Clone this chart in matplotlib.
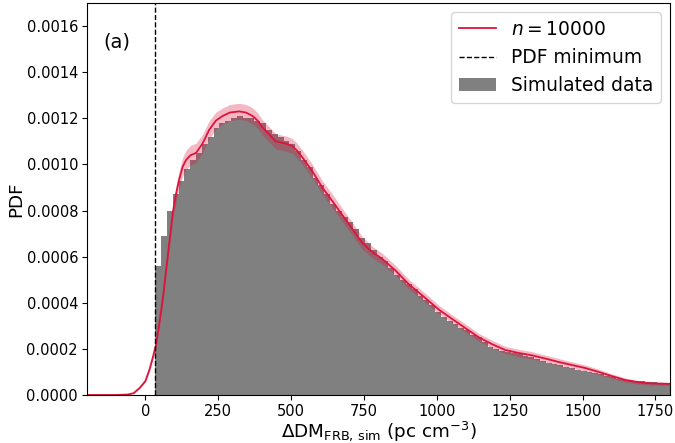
import numpy as np
import matplotlib
matplotlib.use("Agg")
import matplotlib.pyplot as plt

# ---- data ----
pdf_min = 34.0

hist_edges_start = 34.0
hist_bin_width = 20.0
hist_heights = [
    0.00056, 0.00069, 0.00080, 0.00087, 0.00093, 0.00098, 0.00102, 0.00105,
    0.00109, 0.00112, 0.00116, 0.00118, 0.00119, 0.00120, 0.00121, 0.00120,
    0.00120, 0.00119, 0.00118, 0.00115, 0.00113, 0.00112, 0.00110, 0.00109,
    0.00106, 0.00102, 0.00099, 0.00094, 0.00091, 0.00087, 0.00083, 0.00080,
    0.00077, 0.00075, 0.00072, 0.00068, 0.00066, 0.00063, 0.00060, 0.00058,
    0.00055, 0.00052, 0.00050, 0.00048, 0.00046, 0.00043, 0.00041, 0.00039,
    0.00036, 0.00034, 0.00032, 0.00031, 0.00029, 0.00028, 0.00026, 0.00025,
    0.00023, 0.00021, 0.00020, 0.00019, 0.000185, 0.00018, 0.000177, 0.00017,
    0.000165, 0.000156, 0.000147, 0.00014, 0.000134, 0.000128, 0.000122, 0.000117,
    0.00011, 0.000105, 0.0001, 0.000097, 0.00009, 0.000083, 0.000077, 0.00007,
    0.000066, 0.000063, 0.000061, 0.00006, 0.000057, 0.000055, 0.000053, 0.00005,
    0.00005,
]

curve_x = [-200, -100, -60, -40, -20, 0, 14, 25, 37, 50, 60, 70, 82, 94, 105,
           115, 128, 140, 155, 174, 196, 219, 242, 265, 290, 322, 345, 368,
           385, 402, 425, 447, 465, 482, 504, 520, 539, 573, 607, 642, 676,
           710, 744, 778, 813, 858, 904, 961, 1007, 1052, 1098, 1144, 1190,
           1235, 1281, 1326, 1372, 1418, 1463, 1509, 1555, 1600, 1646, 1692,
           1737, 1800]
curve_y = [0.0, 0.0, 0.000002, 0.000008, 0.00003, 0.00006, 0.00011, 0.00016,
           0.00022, 0.00033, 0.00042, 0.00053, 0.00066, 0.00079, 0.00087,
           0.00093, 0.00099, 0.00102, 0.00104, 0.00105, 0.00109, 0.00115,
           0.00119, 0.00121, 0.001225, 0.00123, 0.001225, 0.00121, 0.00119,
           0.00116, 0.00113, 0.00110, 0.001095, 0.00109, 0.00108, 0.00106,
           0.00103, 0.00097, 0.00090, 0.00084, 0.00078, 0.00072, 0.00066,
           0.00062, 0.00059, 0.00054, 0.00048, 0.00042, 0.00037, 0.00033,
           0.00029, 0.00025, 0.00022, 0.000195, 0.000182, 0.000172, 0.000158,
           0.000143, 0.00013, 0.000117, 0.0001, 0.000082, 0.000065, 0.000055,
           0.00005, 0.000048]
curve_err = [0.000001, 0.000001, 0.000001, 0.000002, 0.000003, 0.000005,
             0.000008, 0.000011, 0.000015, 0.00002, 0.000022, 0.000025,
             0.000028, 0.00003, 0.000034, 0.000037, 0.00004, 0.000042,
             0.000042, 0.000042, 0.00004, 0.000039, 0.000037, 0.000035,
             0.000035, 0.000035, 0.000035, 0.000035, 0.000034, 0.000033,
             0.000033, 0.000033, 0.000033, 0.000033, 0.000033, 0.000032,
             0.000031, 0.00003, 0.00003, 0.00003, 0.000029, 0.000028,
             0.000027, 0.000025, 0.000024, 0.000022, 0.000021, 0.00002,
             0.000019, 0.000018, 0.000018, 0.000017, 0.000017, 0.000016,
             0.000016, 0.000016, 0.000015, 0.000015, 0.000014, 0.000013,
             0.000012, 0.00001, 0.000009, 0.000008, 0.000008, 0.000007]

x_ticks = [0, 250, 500, 750, 1000, 1250, 1500, 1750]
y_ticks = [0.0, 0.0002, 0.0004, 0.0006, 0.0008, 0.0010, 0.0012, 0.0014, 0.0016]

# ---- plot ----
fig = plt.figure(figsize=(6.75, 4.43), dpi=100)
ax = fig.add_axes([0.129, 0.1084, 0.8636, 0.8848])

edges = hist_edges_start + hist_bin_width * np.arange(len(hist_heights) + 1)
centers = 0.5 * (edges[:-1] + edges[1:])
_, _, hpatches = ax.hist(centers, bins=edges, weights=hist_heights,
                         color="gray", label="Simulated data")

cx = np.array(curve_x, dtype=float)
cy = np.array(curve_y)
ce = np.array(curve_err)
ax.fill_between(cx, cy - ce, cy + ce, color="crimson", alpha=0.3, lw=0)
line, = ax.plot(cx, cy, color="crimson", lw=1.3, label=r"$n = 10000$")
vl = ax.axvline(pdf_min, color="k", ls="--", lw=1.0, label="PDF minimum")

ax.set_xlim(-200, 1800)
ax.set_ylim(0, 0.0017)
ax.set_xticks(x_ticks)
ax.set_yticks(y_ticks)
ax.set_yticklabels([f"{v:.4f}" for v in y_ticks])
ax.tick_params(labelsize=10.5, pad=3)

ax.set_xlabel(r"$\Delta\mathrm{DM}_{\mathrm{FRB,\,sim}}$ (pc cm$^{-3}$)",
              fontsize=13.2, labelpad=0)
ax.set_ylabel("PDF", fontsize=13.2, labelpad=1)

ax.text(0.028, 0.9, "(a)", transform=ax.transAxes, fontsize=14, va="center")

ax.legend(handles=[line, vl, hpatches[0]],
          labels=[r"$n = 10000$", "PDF minimum", "Simulated data"],
          loc="upper right", fontsize=13.4)

fig.savefig("out.png", dpi=100)
